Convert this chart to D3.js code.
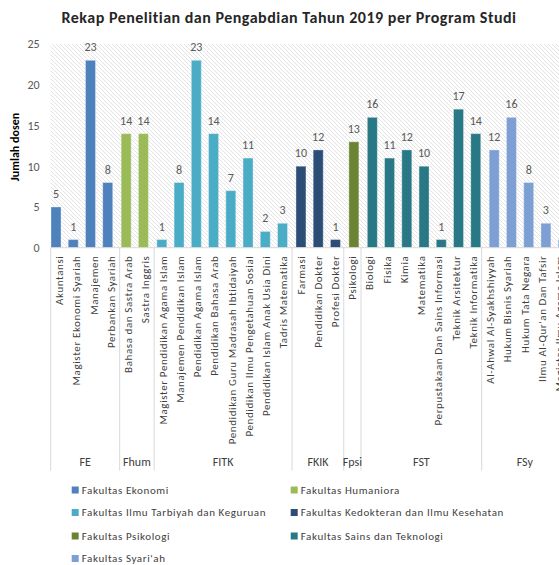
<!DOCTYPE html>
<html>
<head>
<meta charset="utf-8">
<script src="https://cdn.jsdelivr.net/npm/d3@7"></script>
<style>
  body { margin: 0; background: #fff; overflow: hidden; }
  svg text { font-family: Calibri, Carlito, "Liberation Sans", sans-serif; }
</style>
</head>
<body>
<svg id="chart" width="559" height="565"></svg>
<script>
// faculties (series)
var facultyCodes = ["FE", "Fhum", "FITK", "FKIK", "Fpsi", "FST", "FSy"];
var facultyNames = ["Fakultas Ekonomi", "Fakultas Humaniora", "Fakultas Ilmu Tarbiyah dan Keguruan",
    "Fakultas Kedokteran dan Ilmu Kesehatan", "Fakultas Psikologi", "Fakultas Sains dan Teknologi",
    "Fakultas Syari'ah"];
var facultyColors = ["#4f81bd", "#9bbb59", "#4bacc6", "#2c4d75", "#6b8434", "#287885", "#7d9fd3"];

// programs, their faculty and number of lecturers
var programs = ["Akuntansi", "Magister Ekonomi Syariah", "Manajemen", "Perbankan Syariah",
    "Bahasa dan Sastra Arab", "Sastra Inggris",
    "Magister Pendidikan Agama Islam", "Manajemen Pendidikan Islam", "Pendidikan Agama Islam",
    "Pendidikan Bahasa Arab", "Pendidikan Guru Madrasah Ibtidaiyah", "Pendidikan Ilmu Pengetahuan Sosial",
    "Pendidikan Islam Anak Usia Dini", "Tadris Matematika",
    "Farmasi", "Pendidikan Dokter", "Profesi Dokter",
    "Psikologi",
    "Biologi", "Fisika", "Kimia", "Matematika", "Perpustakaan Dan Sains Informasi", "Teknik Arsitektur",
    "Teknik Informatika",
    "Al-Ahwal Al-Syakhshiyyah", "Hukum Bisnis Syariah", "Hukum Tata Negara", "Ilmu Al-Qur'an Dan Tafsir",
    "Magister Ilmu Agama Islam"];
var programFaculty = ["FE", "FE", "FE", "FE",
    "Fhum", "Fhum",
    "FITK", "FITK", "FITK", "FITK", "FITK", "FITK", "FITK", "FITK",
    "FKIK", "FKIK", "FKIK",
    "Fpsi",
    "FST", "FST", "FST", "FST", "FST", "FST", "FST",
    "FSy", "FSy", "FSy", "FSy", "FSy"];
var dosen = [5, 1, 23, 8,
    14, 14,
    1, 8, 23, 14, 7, 11, 2, 3,
    10, 12, 1,
    13,
    16, 11, 12, 10, 1, 17, 14,
    12, 16, 8, 3, 1];
var yTicks = [0, 5, 10, 15, 20, 25];

var svg = d3.select("#chart");
var plotLeft = 50.7, step = 17.24, plotTop = 44, plotBottom = 247.7, groupBottom = 470.7;

var x = d3.scaleBand().domain(programs).range([plotLeft, plotLeft + programs.length * step]);
var sub = d3.scalePoint().domain(facultyCodes).range([0.3, 7.5]);
var color = d3.scaleOrdinal().domain(facultyCodes).range(facultyColors);
var y = d3.scaleLinear().domain([0, 25]).range([plotBottom, plotTop]);
var barW = 10;

var rows = programs.map(function (p, i) {
    return { program: p, faculty: programFaculty[i], value: dosen[i] };
});

// hatched plot background
var defs = svg.append("defs");
var pat = defs.append("pattern").attr("id", "hatch")
    .attr("patternUnits", "userSpaceOnUse").attr("width", 4).attr("height", 4);
pat.append("path").attr("d", "M0,0L4,4M-1,3L1,5M3,-1L5,1")
    .attr("stroke", "#dcdcdc").attr("stroke-width", 0.8);
svg.append("rect").attr("x", plotLeft).attr("y", plotTop)
    .attr("width", 559 - plotLeft).attr("height", plotBottom - plotTop).attr("fill", "url(#hatch)");

// title
svg.append("text").attr("x", 289).attr("y", 23).attr("text-anchor", "middle")
    .style("font-size", "16px").style("font-weight", "bold").style("letter-spacing", "0.5px")
    .attr("fill", "#262626")
    .text("Rekap Penelitian dan Pengabdian Tahun 2019 per Program Studi");

// y axis
var yAxis = svg.append("g").attr("transform", "translate(" + (plotLeft - 11) + ",0)")
    .call(d3.axisLeft(y).tickValues(yTicks).tickSize(0).tickPadding(0));
yAxis.select(".domain").remove();
yAxis.selectAll("text").style("font-size", "12px").attr("fill", "#595959");

svg.append("text").attr("transform", "translate(19,147) rotate(-90)")
    .attr("text-anchor", "middle").style("font-size", "12px").style("font-weight", "bold")
    .attr("fill", "#000").text("Jumlah dosen");

// bars
svg.append("g").selectAll("rect").data(rows).enter().append("rect")
    .attr("x", function (d) { return x(d.program) + sub(d.faculty); })
    .attr("y", function (d) { return y(d.value); })
    .attr("width", barW)
    .attr("height", function (d) { return y(0) - y(d.value); })
    .attr("fill", function (d) { return color(d.faculty); })
    .attr("stroke", "#ffffff").attr("stroke-opacity", 0.35).attr("stroke-width", 1);

// value labels
svg.append("g").selectAll("text").data(rows).enter().append("text")
    .attr("x", function (d) { return x(d.program) + sub(d.faculty) + barW / 2; })
    .attr("y", function (d) { return y(d.value) - 9; })
    .attr("text-anchor", "middle").style("font-size", "12px").attr("fill", "#595959")
    .text(function (d) { return d.value; });

// baseline
svg.append("line").attr("x1", plotLeft).attr("x2", 559).attr("y1", plotBottom).attr("y2", plotBottom)
    .attr("stroke", "#d9d9d9");

// category labels
svg.append("g").selectAll("text").data(rows).enter().append("text")
    .attr("transform", function (d) {
        return "translate(" + (x(d.program) + x.bandwidth() / 2) + ",255.5) rotate(-90)";
    })
    .attr("dy", "0.35em").attr("text-anchor", "end")
    .style("font-size", "11px").style("letter-spacing", "0.6px").attr("fill", "#404040")
    .text(function (d) { return d.program; });

// faculty groups
var groups = facultyCodes.map(function (f) {
    var idx = programFaculty.map(function (g, i) { return g === f ? i : -1; })
        .filter(function (i) { return i >= 0; });
    return { code: f, x0: x(programs[idx[0]]), x1: x(programs[idx[idx.length - 1]]) + x.bandwidth() };
});
svg.append("g").selectAll("line").data(groups).enter().append("line")
    .attr("x1", function (d) { return d.x0; }).attr("x2", function (d) { return d.x0; })
    .attr("y1", plotBottom).attr("y2", groupBottom).attr("stroke", "#d9d9d9");
svg.append("g").selectAll("text").data(groups).enter().append("text")
    .attr("x", function (d) { return (d.x0 + d.x1) / 2; }).attr("y", 466)
    .attr("text-anchor", "middle").style("font-size", "12px").attr("fill", "#404040")
    .text(function (d) { return d.code; });

// legend
var legend = svg.append("g").selectAll("g").data(facultyCodes).enter().append("g")
    .attr("transform", function (d, i) {
        return "translate(" + (i % 2 === 0 ? 71.7 : 290.7) + "," + [490, 512.5, 536, 558.5][Math.floor(i / 2)] + ")";
    });
legend.append("rect").attr("x", 0).attr("y", -3.5).attr("width", 7).attr("height", 7)
    .attr("fill", function (d) { return color(d); });
legend.append("text").attr("x", 10).attr("dy", "0.35em")
    .style("font-size", "11px").style("letter-spacing", "0.6px").attr("fill", "#404040")
    .text(function (d, i) { return facultyNames[i]; });
</script>
</body>
</html>
